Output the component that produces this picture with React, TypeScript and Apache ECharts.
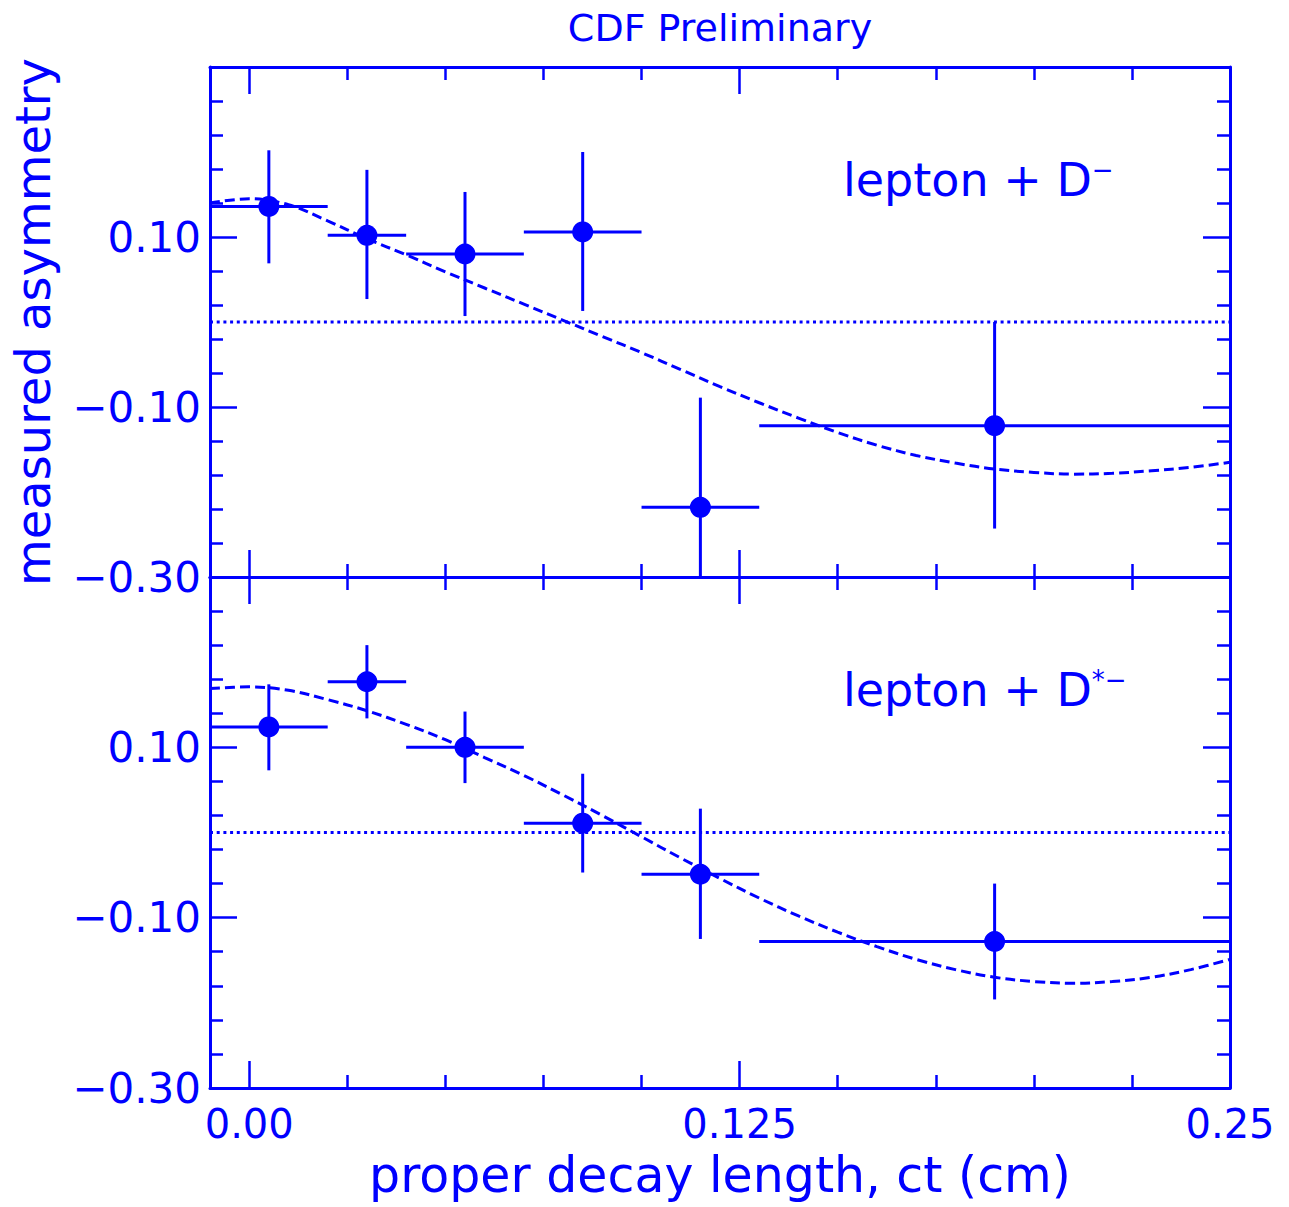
import React, { useEffect, useRef } from 'react';
import * as echarts from 'echarts';

const BLUE = '#0000ff';
const FONT = '"DejaVu Sans", sans-serif';

// ---- data ----
const binLow = [-0.01, 0.02, 0.04, 0.07, 0.1, 0.13];
const binHigh = [0.02, 0.04, 0.07, 0.1, 0.13, 0.25];
const binCenter = [0.005, 0.03, 0.055, 0.085, 0.115, 0.19];

// lepton + D-
const dMinusAsym = [0.136, 0.102, 0.08, 0.106, -0.218, -0.122];
const dMinusUpper = [0.202, 0.179, 0.153, 0.2, -0.089, 0.0];
const dMinusLower = [0.069, 0.027, 0.007, 0.013, -0.3, -0.243];

// lepton + D*-
const dStarAsym = [0.124, 0.177, 0.1, 0.011, -0.049, -0.128];
const dStarUpper = [0.174, 0.22, 0.142, 0.069, 0.028, -0.06];
const dStarLower = [0.073, 0.134, 0.058, -0.047, -0.125, -0.196];

// fitted curves
const fitCt = [
  -0.01, 0.0, 0.01, 0.02, 0.03, 0.04, 0.05, 0.06, 0.07, 0.08, 0.09, 0.1, 0.11, 0.12,
  0.13, 0.14, 0.15, 0.16, 0.17, 0.18, 0.19, 0.2, 0.21, 0.22, 0.23, 0.24, 0.25,
];
const dMinusFit = [
  0.14, 0.145, 0.138, 0.119, 0.098, 0.079, 0.059, 0.04, 0.021, 0.002, -0.017, -0.036, -0.056,
  -0.076, -0.095, -0.113, -0.13, -0.145, -0.157, -0.166, -0.173, -0.177, -0.179, -0.178,
  -0.175, -0.171, -0.165,
];
const dStarFit = [
  0.169, 0.171, 0.167, 0.156, 0.143, 0.127, 0.109, 0.088, 0.067, 0.044, 0.02, -0.005,
  -0.03, -0.054, -0.077, -0.098, -0.117, -0.134, -0.149, -0.161, -0.17, -0.175, -0.177,
  -0.175, -0.17, -0.161, -0.149,
];

// axes
const xMajorTicks = [0, 0.125, 0.25];
const xMajorLabels = ['0.00', '0.125', '0.25'];
const xMinorTicks = [0.025, 0.05, 0.075, 0.1, 0.15, 0.175, 0.2, 0.225];
const yMin = -0.3;
const yMax = 0.3;
const yMajorStep = 0.2;

const fmtY = (v: number) => {
  if (v > 0.2) return '';
  const s = Math.abs(v).toFixed(2);
  return v < 0 ? '\u2212' + s : s;
};

const fmtX = (v: number) => {
  let best = 0;
  for (let i = 0; i < xMajorTicks.length; i++) {
    if (Math.abs(xMajorTicks[i] - v) < Math.abs(xMajorTicks[best] - v)) best = i;
  }
  return Math.abs(xMajorTicks[best] - v) < 1e-6 ? xMajorLabels[best] : '';
};

export default function App() {
  const ref = useRef<HTMLDivElement>(null);

  useEffect(() => {
    if (!ref.current) return;
    const chart = echarts.init(ref.current, null, { renderer: 'svg' });

    const mkX = (gridIndex: number, position: string, major: boolean, withLine: boolean, labels: boolean) => ({
      type: 'value',
      gridIndex,
      position,
      min: -0.01,
      max: 0.25,
      splitLine: { show: false },
      axisLine: { show: withLine, onZero: false, lineStyle: { color: BLUE, width: 3 } },
      axisTick: {
        show: true,
        inside: true,
        length: major ? 27 : 13,
        customValues: major ? xMajorTicks : xMinorTicks,
        lineStyle: { color: BLUE, width: 2.5 },
      },
      axisLabel: labels
        ? {
            show: true,
            customValues: xMajorTicks,
            formatter: fmtX,
            color: BLUE,
            fontFamily: FONT,
            fontSize: 40,
            margin: 16,
          }
        : { show: false },
    });

    const mkY = (gridIndex: number, position: string, labels: boolean) => ({
      type: 'value',
      gridIndex,
      position,
      min: yMin,
      max: yMax,
      interval: yMajorStep,
      splitLine: { show: false },
      axisLine: { show: true, onZero: false, lineStyle: { color: BLUE, width: 3 } },
      axisTick: { show: true, inside: true, length: 27, lineStyle: { color: BLUE, width: 2.5 } },
      minorTick: { show: true, splitNumber: 5, length: 13, lineStyle: { color: BLUE, width: 2.5 } },
      minorSplitLine: { show: false },
      axisLabel: labels
        ? {
            show: true,
            formatter: fmtY,
            color: BLUE,
            fontFamily: FONT,
            fontSize: 42,
            margin: 9,
            showMaxLabel: false,
          }
        : { show: false },
    });

    const errData = (asym: number[], lo: number[], hi: number[]) =>
      binCenter.map((x, i) => [x, asym[i], binLow[i], binHigh[i], lo[i], hi[i]]);

    const renderErr = (params: any, api: any) => {
      const x = api.value(0);
      const y = api.value(1);
      const a = api.coord([api.value(2), y]);
      const b = api.coord([api.value(3), y]);
      const c = api.coord([x, api.value(4)]);
      const d = api.coord([x, api.value(5)]);
      const st = { stroke: BLUE, lineWidth: 3 };
      return {
        type: 'group',
        children: [
          { type: 'line', shape: { x1: a[0], y1: a[1], x2: b[0], y2: b[1] }, style: st },
          { type: 'line', shape: { x1: c[0], y1: c[1], x2: d[0], y2: d[1] }, style: st },
        ],
      };
    };

    const panelSeries = (xi: number, yi: number, asym: number[], lo: number[], hi: number[], fit: number[]) => [
      {
        type: 'line',
        xAxisIndex: xi,
        yAxisIndex: yi,
        data: [
          [-0.01, 0],
          [0.25, 0],
        ],
        symbol: 'none',
        lineStyle: { color: BLUE, width: 2.8, type: [3, 3.7] },
        z: 1,
      },
      {
        type: 'line',
        xAxisIndex: xi,
        yAxisIndex: yi,
        data: fitCt.map((x, i) => [x, fit[i]]),
        symbol: 'none',
        smooth: 0.35,
        lineStyle: { color: BLUE, width: 3, type: [10, 5] },
        z: 2,
      },
      {
        type: 'custom',
        xAxisIndex: xi,
        yAxisIndex: yi,
        data: errData(asym, lo, hi),
        renderItem: renderErr,
        encode: { x: 0, y: 1 },
        clip: true,
        z: 3,
      },
      {
        type: 'scatter',
        xAxisIndex: xi,
        yAxisIndex: yi,
        data: binCenter.map((x, i) => [x, asym[i]]),
        symbol: 'circle',
        symbolSize: 21,
        itemStyle: { color: BLUE, opacity: 1 },
        z: 4,
      },
    ];

    const legendRich = {
      m: { fontSize: 46, fontFamily: FONT, color: BLUE },
      s: { fontSize: 26, fontFamily: FONT, color: BLUE, verticalAlign: 'top' },
    };

    chart.setOption({
      animation: false,
      backgroundColor: '#ffffff',
      grid: [
        { left: 210, top: 67, width: 1020, height: 510, containLabel: false, outerBoundsMode: 'none' },
        { left: 210, top: 577, width: 1020, height: 511, containLabel: false, outerBoundsMode: 'none' },
      ],
      xAxis: [
        mkX(0, 'bottom', true, true, false),
        mkX(0, 'bottom', false, false, false),
        mkX(0, 'top', true, true, false),
        mkX(0, 'top', false, false, false),
        mkX(1, 'bottom', true, true, true),
        mkX(1, 'bottom', false, false, false),
        mkX(1, 'top', true, true, false),
        mkX(1, 'top', false, false, false),
      ],
      yAxis: [mkY(0, 'left', true), mkY(0, 'right', false), mkY(1, 'left', true), mkY(1, 'right', false)],
      series: [
        ...panelSeries(0, 0, dMinusAsym, dMinusLower, dMinusUpper, dMinusFit),
        ...panelSeries(4, 2, dStarAsym, dStarLower, dStarUpper, dStarFit),
      ],
      graphic: [
        {
          type: 'text',
          x: 720,
          y: 28,
          style: {
            text: 'CDF Preliminary',
            fill: BLUE,
            font: `38px ${FONT}`,
            textAlign: 'center',
            textVerticalAlign: 'middle',
          },
        },
        {
          type: 'text',
          x: 720,
          y: 1175,
          style: {
            text: 'proper decay length, ct (cm)',
            fill: BLUE,
            font: `49px ${FONT}`,
            textAlign: 'center',
            textVerticalAlign: 'middle',
          },
        },
        {
          type: 'text',
          x: 33,
          y: 322,
          rotation: Math.PI / 2,
          style: {
            text: 'measured asymmetry',
            fill: BLUE,
            font: `48px ${FONT}`,
            textAlign: 'center',
            textVerticalAlign: 'middle',
          },
        },
        {
          type: 'text',
          x: 843,
          y: 180,
          style: {
            text: '{m|lepton + D}{s|\u2212}',
            rich: legendRich,
            fill: BLUE,
            textAlign: 'left',
            textVerticalAlign: 'middle',
          },
        },
        {
          type: 'text',
          x: 843,
          y: 690,
          style: {
            text: '{m|lepton + D}{s|*\u2212}',
            rich: legendRich,
            fill: BLUE,
            textAlign: 'left',
            textVerticalAlign: 'middle',
          },
        },
      ],
    });

    return () => chart.dispose();
  }, []);

  return (
    <div
      ref={ref}
      style={{ position: 'absolute', left: 0, top: 0, width: 1289, height: 1207, background: '#fff' }}
    />
  );
}
